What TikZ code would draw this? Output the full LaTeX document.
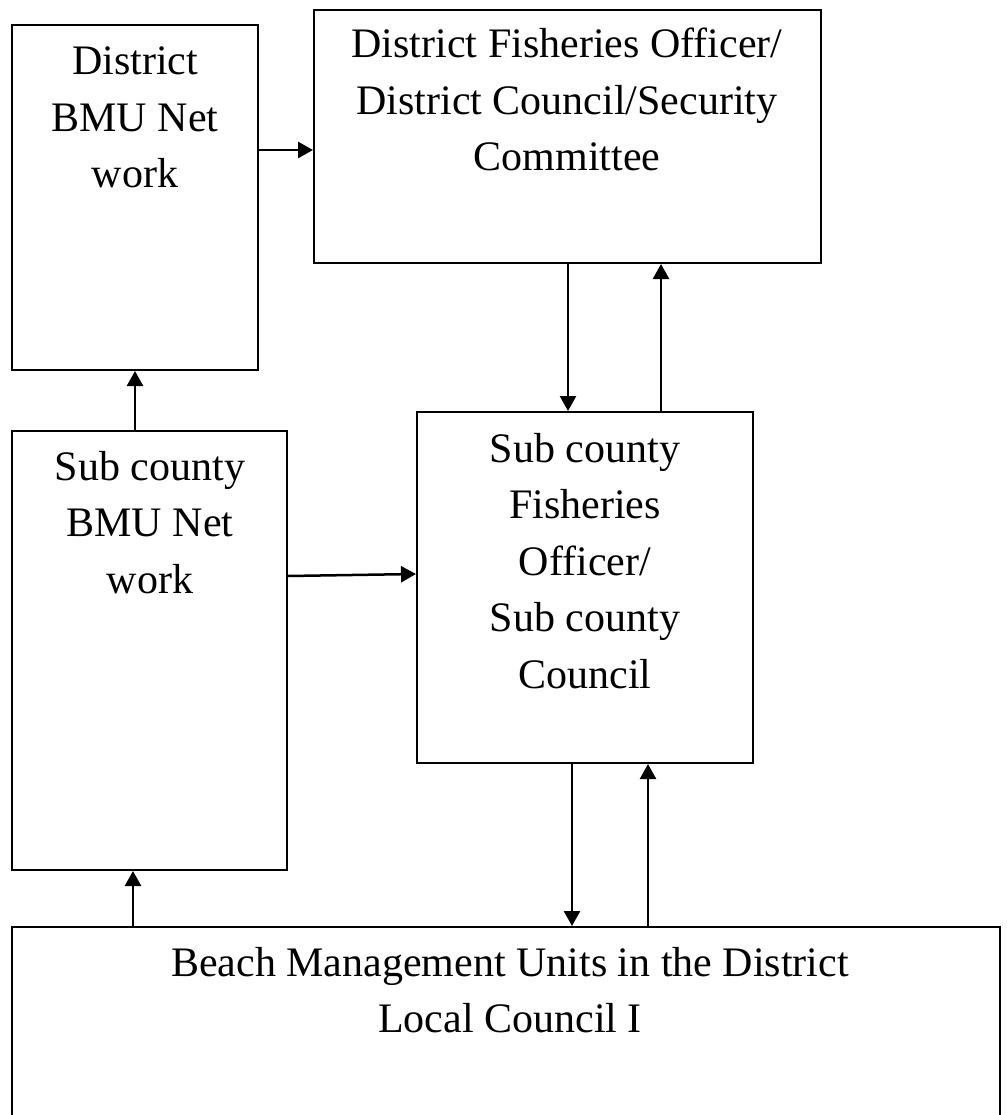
\documentclass[tikz,border=0pt]{standalone}
\usepackage{fontspec}
\setmainfont{Liberation Serif}
\usetikzlibrary{arrows.meta}
\newcommand{\boxlines}[1]{\begin{tabular}[t]{@{}c@{}}#1\end{tabular}}
\begin{document}
\begin{tikzpicture}[x=1pt,y=-1pt,
  box/.style={draw, line width=2pt, rectangle, inner sep=0pt},
  lbl/.style={anchor=base, inner sep=0pt, font=\fontsize{42}{56.5}\selectfont},
  arr/.style={line width=2.5pt, -{Triangle[length=15pt,width=16pt]}}]
\useasboundingbox (0,0) rectangle (1006,1115);
% boxes
\node[box, minimum width=246pt, minimum height=345pt] (A) at (135,197.5) {};
\node[box, minimum width=507pt, minimum height=253pt] (B) at (567.5,136.5) {};
\node[box, minimum width=275pt, minimum height=439pt] (C) at (149.5,650.5) {};
\node[box, minimum width=336pt, minimum height=351pt] (D) at (585,587.5) {};
\node[box, minimum width=988pt, minimum height=198pt] (E) at (506,1026) {};
% texts
\node[lbl] (tA) at (135,75) {\boxlines{District\\BMU Net\\work}};
\node[lbl] (tB) at (567,58) {\boxlines{District Fisheries Officer/\\District Council/Security\\Committee}};
\node[lbl] (tC) at (150,480) {\boxlines{Sub county\\BMU Net\\work}};
\node[lbl] (tD) at (585,462) {\boxlines{Sub county\\Fisheries\\Officer/\\Sub county\\Council}};
\node[lbl] (tE) at (510,976) {\boxlines{Beach Management Units in the District\\Local Council I}};
% connectors
\draw[arr] (A.east |- 0,150) -- (B.west |- 0,150);
\draw[arr] (B.south -| 568,0) -- (D.north -| 568,0);
\draw[arr] (D.north -| 661,0) -- (B.south -| 661,0);
\draw[arr] (C.north -| 135,0) -- (A.south -| 135,0);
\draw[arr] (C.east |- 0,576) -- (D.west |- 0,574);
\draw[arr] (D.south -| 572,0) -- (E.north -| 572,0);
\draw[arr] (E.north -| 648,0) -- (D.south -| 648,0);
\draw[arr] (E.north -| 133,0) -- (C.south -| 133,0);
\end{tikzpicture}
\end{document}
